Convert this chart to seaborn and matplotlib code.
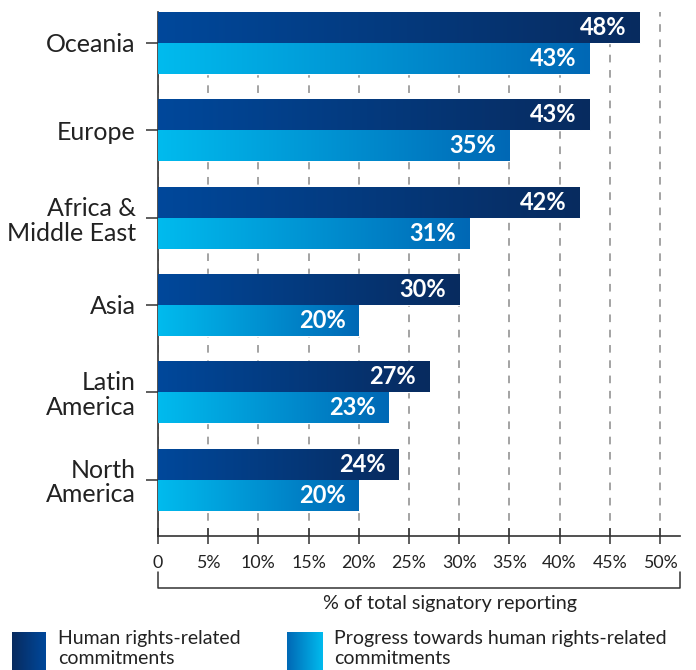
import numpy as np
import pandas as pd
import matplotlib
matplotlib.use('Agg')
import matplotlib.pyplot as plt
import seaborn as sns
from matplotlib.colors import LinearSegmentedColormap

# Data
regions = ['Oceania', 'Europe', 'Africa &\nMiddle East', 'Asia', 'Latin\nAmerica', 'North\nAmerica']
commitments = [48, 43, 42, 30, 27, 24]
progress = [43, 35, 31, 20, 23, 20]
series = ['Human rights-related\ncommitments',
          'Progress towards human rights-related\ncommitments']
ticks = list(range(0, 51, 5))
tick_labels = ['0'] + [f'{t}%' for t in ticks[1:]]

DARK = ['#00489b', '#082b5f']
LIGHT = ['#00bbee', '#0068b5']
dark_cmap = LinearSegmentedColormap.from_list('dark', DARK)
light_cmap = LinearSegmentedColormap.from_list('light', LIGHT)

df = pd.DataFrame({
    'region': regions * 2,
    'value': commitments + progress,
    'series': [series[0]] * len(regions) + [series[1]] * len(regions),
})

sns.set_style('white')
plt.rcParams['font.family'] = ['Lato', 'DejaVu Sans']
text_col = '#222222'

W, H = 696, 670
fig = plt.figure(figsize=(W / 100, H / 100), dpi=100)
ax = fig.add_axes([158 / W, 1 - 536 / H, (680 - 158) / W, (536 - 12) / H])

sns.barplot(data=df, y='region', x='value', hue='series', orient='h',
            palette=[DARK[0], LIGHT[0]], width=0.71, saturation=1,
            legend=False, ax=ax, zorder=2)

# horizontal gradient on every bar
grad = np.linspace(0, 1, 256).reshape(1, -1)
for cont, cmap in zip(ax.containers, [dark_cmap, light_cmap]):
    for bar in cont:
        x0, y0 = bar.get_x(), bar.get_y()
        w, h = bar.get_width(), bar.get_height()
        im = ax.imshow(grad, cmap=cmap, aspect='auto', zorder=3,
                       extent=[x0, x0 + w, y0 + h, y0], interpolation='bicubic')
        im.set_clip_path(bar)
        ax.text(x0 + w - 1.3, y0 + h / 2, f'{w:.0f}%', ha='right', va='center',
                color='white', fontsize=17, fontweight='bold', zorder=4)

ax.set_xlim(0, 52)
ax.set_ylim(len(regions) - 0.353, -0.355)
ax.set_xticks(ticks)
ax.set_xticklabels(tick_labels)
ax.set_xlabel('')
ax.set_ylabel('')
ax.xaxis.grid(True, linestyle=(0, (5, 5)), color='#8a8a8a', lw=1.1)
ax.yaxis.grid(False)
ax.set_axisbelow(True)

for s in ['top', 'right']:
    ax.spines[s].set_visible(False)
for s in ['left', 'bottom']:
    ax.spines[s].set_color('#333333')
    ax.spines[s].set_linewidth(1.2)

ax.tick_params(axis='y', left=True, length=9, width=1.1, color='#333333',
               pad=7, labelsize=18, labelcolor=text_col)
ax.tick_params(axis='x', bottom=True, direction='inout', length=12, width=1.1,
               color='#333333', pad=8, labelsize=12.8, labelcolor=text_col)
for lab in ax.get_yticklabels():
    lab.set_linespacing(1.1)

# bracket under the tick labels
tr = ax.get_xaxis_transform()
ax.plot([0, 0, 52, 52], [-0.068, -0.099, -0.099, -0.068], color='#333333',
        lw=1.1, transform=tr, clip_on=False)
fig.text(450 / W, 1 - 604 / H, '% of total signatory reporting', ha='center',
         va='center', fontsize=14.2, color=text_col)

# legend with gradient swatches
for sx, sw, cols, lx, label in [(12, 34, DARK[::-1], 58, series[0]),
                                (287, 36, LIGHT[::-1], 334, series[1])]:
    sax = fig.add_axes([sx / W, 0, sw / W, (H - 632) / H])
    sax.imshow(grad, cmap=LinearSegmentedColormap.from_list('sw', cols),
               aspect='auto')
    sax.axis('off')
    fig.text(lx / W, 1 - 630 / H, label, ha='left', va='top', fontsize=14,
             color=text_col, linespacing=1.22)

fig.savefig('out.png', dpi=100)
